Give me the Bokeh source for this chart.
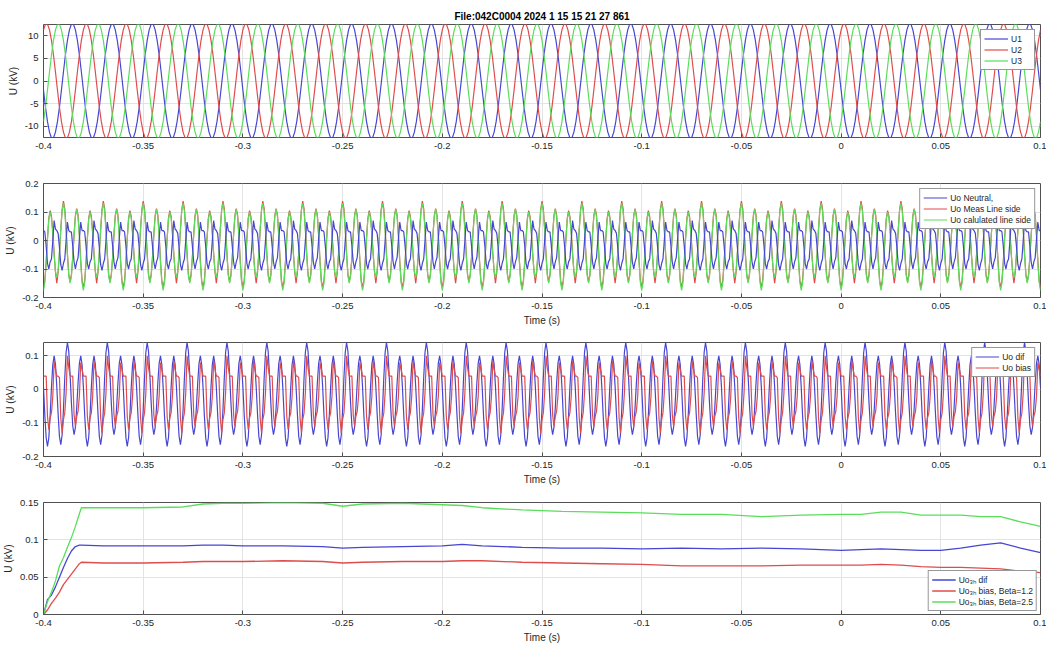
import numpy as np
from bokeh.plotting import figure
from bokeh.layouts import column
from bokeh.models import FixedTicker, Range1d, Legend, LegendItem
from bokeh.embed import file_html
from bokeh.resources import INLINE

# ---------------- data ----------------
title_text = "File:042C0004 2024 1 15 15 21 27 861"
x_ticks = [-0.4, -0.35, -0.3, -0.25, -0.2, -0.15, -0.1, -0.05, 0.0, 0.05, 0.1]
x_tick_labels = ["-0.4", "-0.35", "-0.3", "-0.25", "-0.2", "-0.15", "-0.1", "-0.05", "0", "0.05", "0.1"]

t_start = -0.4
period = 0.02          # one 50 Hz period (s)
n_cycles = 25          # periods shown from -0.4 s to 0.1 s

# panel 1: one period of each phase voltage, read at 1 ms steps (kV)
u1_cycle = [-2.0, -5.8, -9.0, -11.3, -12.6, -12.6, -11.3, -9.0, -5.8, -2.0,
            2.0, 5.8, 9.0, 11.3, 12.6, 12.6, 11.3, 9.0, 5.8, 2.0]
u2_cycle = [11.3, 12.6, 12.6, 11.3, 9.0, 5.8, 2.0, -2.0, -5.8, -9.0,
            -11.3, -12.6, -12.6, -11.3, -9.0, -5.8, -2.0, 2.0, 5.8, 9.0]
u3_cycle = [-9.0, -5.8, -2.0, 2.0, 5.8, 9.0, 11.3, 12.6, 12.6, 11.3,
            9.0, 5.8, 2.0, -2.0, -5.8, -9.0, -11.3, -12.6, -12.6, -11.3]

# panel 2: one period read at 2/3 ms steps (kV)
uo_neutral_cycle = [0.035, 0.03, -0.02, -0.08, -0.10, -0.075, -0.065, 0.0, 0.07, 0.04,
                    0.035, 0.025, -0.025, -0.085, -0.105, -0.08, -0.065, 0.0, 0.065, 0.035,
                    0.03, 0.03, -0.02, -0.075, -0.10, -0.075, -0.06, 0.005, 0.065, 0.035]
uo_meas_cycle = [-0.165, -0.140, -0.075, 0.008, 0.078, 0.105, 0.085, 0.030, -0.045, -0.110,
                 -0.150, -0.112, -0.045, 0.038, 0.108, 0.138, 0.112, 0.042, -0.045, -0.118,
                 -0.145, -0.120, -0.058, 0.022, 0.088, 0.112, 0.090, 0.020, -0.070, -0.140]
uo_calc_cycle = [-0.175, -0.149, -0.080, 0.005, 0.074, 0.100, 0.078, 0.021, -0.051, -0.108,
                 -0.130, -0.105, -0.040, 0.040, 0.105, 0.130, 0.103, 0.033, -0.053, -0.123,
                 -0.150, -0.125, -0.060, 0.020, 0.085, 0.110, 0.083, 0.012, -0.077, -0.148]

# panel 3: one period read at 2/3 ms steps (kV)
uo_dif_cycle = [0.007, -0.077, -0.144, -0.170, -0.144, -0.077, 0.007, 0.074, 0.100, 0.075,
                0.008, -0.073, -0.140, -0.165, -0.136, -0.060, 0.035, 0.111, 0.140, 0.114,
                0.045, -0.040, -0.109, -0.135, -0.113, -0.054, 0.019, 0.078, 0.100, 0.074]
uo_bias_cycle = [0.04, 0.04, 0.04, -0.08, -0.12, -0.085, -0.07, -0.02, 0.085, 0.06,
                 0.04, 0.04, 0.035, -0.085, -0.13, -0.09, -0.07, -0.01, 0.10, 0.065,
                 0.04, 0.04, 0.04, -0.075, -0.11, -0.08, -0.065, -0.02, 0.08, 0.06]

# panel 4: third-harmonic levels (kV)
t4 = [-0.4, -0.398, -0.396, -0.394, -0.392, -0.39, -0.388, -0.386, -0.384, -0.382, -0.381,
      -0.37, -0.35, -0.33, -0.32, -0.31, -0.3, -0.28, -0.26, -0.25, -0.24, -0.22, -0.2,
      -0.19, -0.18, -0.16, -0.14, -0.12, -0.1, -0.08, -0.06, -0.04, -0.02, 0.0, 0.01,
      0.02, 0.03, 0.04, 0.05, 0.06, 0.07, 0.08, 0.09, 0.1]
uo3h_dif = [0.0, 0.02, 0.026, 0.037, 0.05, 0.063, 0.075, 0.085, 0.091, 0.093, 0.093,
            0.092, 0.092, 0.092, 0.093, 0.093, 0.092, 0.092, 0.091, 0.089, 0.09, 0.091, 0.092,
            0.094, 0.092, 0.09, 0.089, 0.089, 0.088, 0.089, 0.088, 0.089, 0.088, 0.086, 0.087,
            0.088, 0.087, 0.086, 0.086, 0.089, 0.093, 0.096, 0.089, 0.083]
uo3h_bias12 = [0.0, 0.006, 0.015, 0.022, 0.03, 0.04, 0.047, 0.054, 0.061, 0.068, 0.07,
               0.069, 0.069, 0.07, 0.071, 0.071, 0.071, 0.072, 0.071, 0.069, 0.07, 0.071, 0.071,
               0.072, 0.072, 0.07, 0.069, 0.068, 0.067, 0.065, 0.065, 0.065, 0.066, 0.066, 0.066,
               0.067, 0.066, 0.064, 0.063, 0.063, 0.062, 0.061, 0.058, 0.056]
uo3h_bias25 = [0.0, 0.017, 0.03, 0.045, 0.065, 0.076, 0.09, 0.103, 0.118, 0.135, 0.143,
               0.143, 0.143, 0.144, 0.148, 0.149, 0.149, 0.15, 0.149, 0.145, 0.148, 0.149, 0.147,
               0.146, 0.143, 0.14, 0.138, 0.137, 0.136, 0.134, 0.134, 0.131, 0.133, 0.134, 0.134,
               0.137, 0.137, 0.133, 0.133, 0.133, 0.131, 0.131, 0.124, 0.118]


def periodic(cycle):
    n = len(cycle)
    t = t_start + np.arange(n * n_cycles + 1) * (period / n)
    y = np.append(np.tile(np.asarray(cycle, dtype=float), n_cycles), cycle[0])
    return t, y


# ---------------- styling ----------------
BLUE = "#4646d2"
RED = "#e04c4c"
GREEN = "#5ade5a"
FONT = "Liberation Sans"
TXT = "#262626"
EDGE = "#505050"
LW = 1.2


def make_fig(height, top, bottom, yr, yticks, ylabels, xlabel=None, title=None):
    kw = dict(width=1046, height=height, x_range=Range1d(-0.4, 0.1), y_range=Range1d(*yr),
              output_backend="svg", toolbar_location=None,
              min_border_left=43, min_border_right=6, min_border_top=top, min_border_bottom=bottom)
    if title:
        kw["title"] = title
    p = figure(**kw)
    if title:
        p.title.align = "center"
        p.title.text_font = FONT
        p.title.text_font_size = "10px"
        p.title.text_font_style = "bold"
        p.title.text_color = "#000000"
        p.title.standoff = 6
    p.outline_line_color = EDGE
    p.outline_line_width = 1
    p.background_fill_color = "white"
    p.border_fill_color = "white"

    p.xaxis.ticker = FixedTicker(ticks=x_ticks)
    p.xaxis.major_label_overrides = dict(zip(x_ticks, x_tick_labels))
    p.yaxis.ticker = FixedTicker(ticks=yticks)
    p.yaxis.major_label_overrides = dict(zip(yticks, ylabels))
    for ax in (p.xaxis[0], p.yaxis[0]):
        ax.axis_line_color = None
        ax.major_tick_in = 4
        ax.major_tick_out = 0
        ax.major_tick_line_color = EDGE
        ax.minor_tick_line_color = None
        ax.major_label_text_font = FONT
        ax.major_label_text_font_size = "9.5px"
        ax.major_label_text_color = TXT
        ax.major_label_standoff = 5
        ax.axis_label_text_font = FONT
        ax.axis_label_text_font_size = "10px"
        ax.axis_label_text_font_style = "normal"
        ax.axis_label_text_color = TXT
        ax.axis_label_standoff = 3
    p.yaxis.axis_label = "U (kV)"
    if xlabel:
        p.xaxis.axis_label = xlabel

    p.grid.grid_line_color = "#e3e3e3"
    p.grid.grid_line_width = 1
    return p


def add_legend(p, items, location, margin=5):
    lg = Legend(items=items, location=location, label_text_font=FONT, label_text_font_size="8.5px",
                label_text_color=TXT, glyph_width=24, glyph_height=11, label_height=11,
                label_standoff=3, spacing=0, padding=3, margin=margin,
                border_line_color="#303030", border_line_width=1, background_fill_alpha=1)
    p.add_layout(lg)


# ---- panel 1 ----
p1 = make_fig(160, 24, 23, (-12.5, 12.5), [-10, -5, 0, 5, 10], ["-10", "-5", "0", "5", "10"],
              title=title_text)
t, y = periodic(u1_cycle)
r11 = p1.line(t, y, line_color=BLUE, line_width=LW)
t, y = periodic(u2_cycle)
r12 = p1.line(t, y, line_color=RED, line_width=LW)
t, y = periodic(u3_cycle)
r13 = p1.line(t, y, line_color=GREEN, line_width=LW)
add_legend(p1, [LegendItem(label="U1", renderers=[r11]), LegendItem(label="U2", renderers=[r12]),
                LegendItem(label="U3", renderers=[r13])], "top_right")

# ---- panel 2 ----
p2 = make_fig(170, 23, 33, (-0.2, 0.2), [-0.2, -0.1, 0, 0.1, 0.2], ["-0.2", "-0.1", "0", "0.1", "0.2"],
              xlabel="Time (s)")
t, y = periodic(uo_meas_cycle)
r22 = p2.line(t, y, line_color=RED, line_width=LW)
t, y = periodic(uo_calc_cycle)
r23 = p2.line(t, y, line_color=GREEN, line_width=LW)
t, y = periodic(uo_neutral_cycle)
r21 = p2.line(t, y, line_color=BLUE, line_width=LW)
add_legend(p2, [LegendItem(label="Uo Neutral,", renderers=[r21]),
                LegendItem(label="Uo Meas Line side", renderers=[r22]),
                LegendItem(label="Uo calulated line side", renderers=[r23])], "top_right")

# ---- panel 3 ----
p3 = make_fig(160, 12, 34, (-0.2, 0.14), [-0.2, -0.1, 0, 0.1], ["-0.2", "-0.1", "0", "0.1"],
              xlabel="Time (s)")
t, y = periodic(uo_dif_cycle)
r31 = p3.line(t, y, line_color=BLUE, line_width=LW)
t, y = periodic(uo_bias_cycle)
r32 = p3.line(t, y, line_color=RED, line_width=LW)
add_legend(p3, [LegendItem(label="Uo dif", renderers=[r31]),
                LegendItem(label="Uo bias", renderers=[r32])], "top_right")

# ---- panel 4 ----
p4 = make_fig(155, 12, 29, (0, 0.15), [0, 0.05, 0.1, 0.15], ["0", "0.05", "0.1", "0.15"],
              xlabel="Time (s)")
r41 = p4.line(t4, uo3h_dif, line_color=BLUE, line_width=1.3)
r42 = p4.line(t4, uo3h_bias12, line_color=RED, line_width=1.3)
r43 = p4.line(t4, uo3h_bias25, line_color=GREEN, line_width=1.3)
add_legend(p4, [LegendItem(label="Uo\u2083\u2095 dif", renderers=[r41]),
                LegendItem(label="Uo\u2083\u2095 bias, Beta=1.2", renderers=[r42]),
                LegendItem(label="Uo\u2083\u2095 bias, Beta=2.5", renderers=[r43])], "bottom_right",
           margin=3)

layout = column(p1, p2, p3, p4, spacing=0)
open("out.html", "w").write(file_html(layout, INLINE))
